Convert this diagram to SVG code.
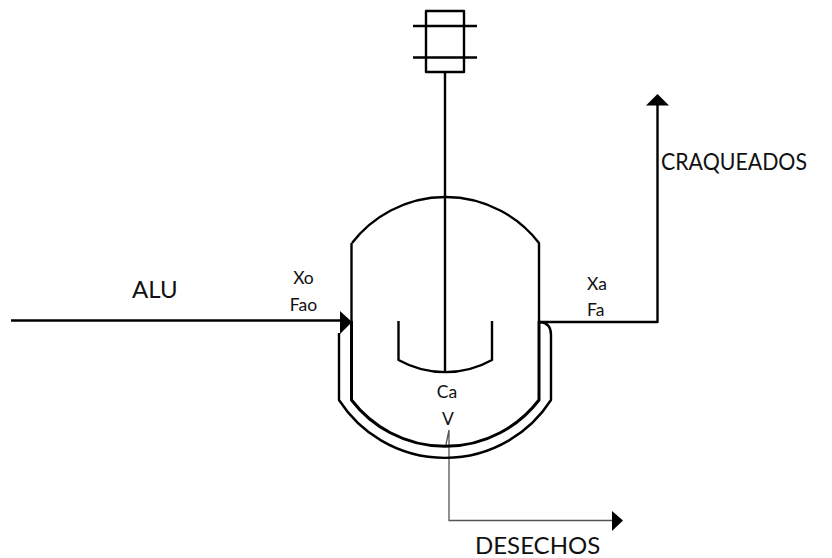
<svg xmlns="http://www.w3.org/2000/svg" width="832" height="558" viewBox="0 0 832 558">
<style>
.l{fill:none;stroke:#000;stroke-width:2.4;stroke-linejoin:round}
.b{stroke-width:3}
.g{fill:none;stroke:#555;stroke-width:1.3}
.t{font-family:"Lato","Carlito","Liberation Sans",sans-serif;fill:#111}
.m{font-size:17.500px}
.L{font-size:24px}
.h{fill:#000}
</style>
<rect width="832" height="558" fill="#fff"/>
<g id="connectors">
<path class="l" d="M11 320.500H340"/>
<path class="h" d="M340 311L352 322L340 334Z"/>
<path class="l" d="M539 322H657.500V104"/>
<path class="h" d="M646 105.500L657.500 94L669 105.500Z"/>
<path class="g" d="M449 430L445.700 446M449 430V520.500H612"/>
<path class="h" d="M612 511L623 520.500L612 531Z"/>
</g>
<g id="motor">
<rect class="l" x="426" y="11" width="38" height="61"/>
<path class="l" d="M413 26H477M413 57.500H477"/>
<path class="l" d="M445 72V372"/>
</g>
<g id="reactor">
<path class="l" d="M352 243A118 118 0 0 1 539 243V321"/>
<path class="l" d="M351.500 243V321"/>
<path class="l b" d="M351.500 321V400A118 118 0 0 0 539 400V321"/>
</g>
<g id="jacket">
<path class="l" d="M339 333V400A126 126 0 0 0 551 400V335Q551 323 540 322"/>
</g>
<g id="impeller">
<path class="l" d="M398.500 321V360A96 96 0 0 0 492 360V321"/>
</g>
<g id="labels">
<text class="t L" x="132" y="298">ALU</text>
<text class="t m" x="303.500" y="284" text-anchor="middle">Xo</text>
<text class="t m" x="303.500" y="311" text-anchor="middle">Fao</text>
<text class="t m" x="587" y="290">Xa</text>
<text class="t m" x="587" y="316">Fa</text>
<text class="t m" x="447" y="398" text-anchor="middle">Ca</text>
<text class="t m" x="448" y="425" text-anchor="middle">V</text>
<text class="t L" x="661" y="170" textLength="146" lengthAdjust="spacingAndGlyphs">CRAQUEADOS</text>
<text class="t L" x="475" y="554">DESECHOS</text>
</g>
</svg>
